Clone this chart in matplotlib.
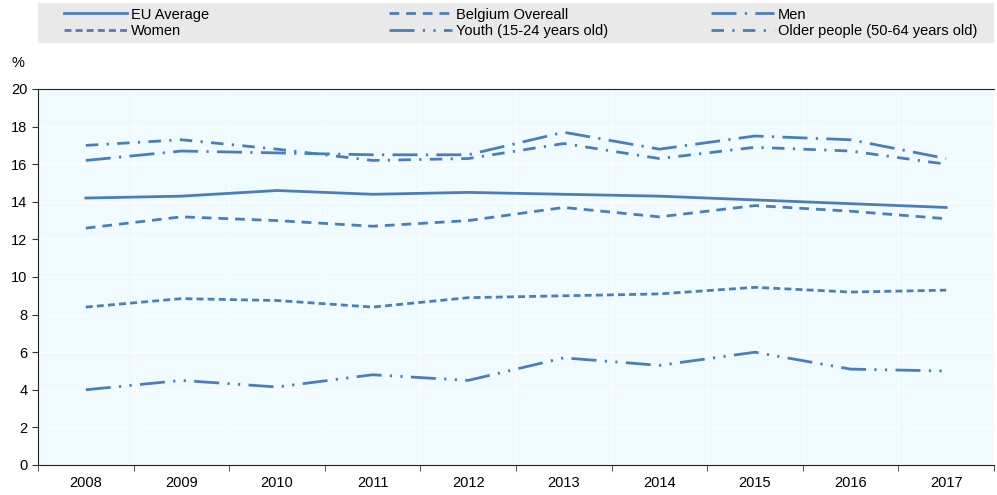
import matplotlib
matplotlib.use("Agg")
import matplotlib.pyplot as plt
from matplotlib.patches import Rectangle
import numpy as np

plt.rcParams["font.family"] = ["Liberation Sans Narrow", "Liberation Sans", "DejaVu Sans"]

years = ["2008", "2009", "2010", "2011", "2012", "2013", "2014", "2015", "2016", "2017"]
eu_average = [14.2, 14.3, 14.6, 14.4, 14.5, 14.4, 14.3, 14.1, 13.9, 13.7]
belgium = [12.6, 13.2, 13.0, 12.7, 13.0, 13.7, 13.2, 13.8, 13.5, 13.1]
men = [16.2, 16.7, 16.6, 16.5, 16.5, 17.7, 16.8, 17.5, 17.3, 16.3]
women = [8.4, 8.85, 8.75, 8.4, 8.9, 9.0, 9.1, 9.45, 9.2, 9.3]
youth = [4.0, 4.5, 4.15, 4.8, 4.5, 5.7, 5.3, 6.0, 5.1, 5.0]
older = [17.0, 17.3, 16.8, 16.2, 16.3, 17.1, 16.3, 16.9, 16.7, 16.0]

color = "#4A7EBB"
x = np.arange(len(years))

W, H = 997, 495
fig = plt.figure(figsize=(W / 100, H / 100), dpi=100)
ax = fig.add_axes([38 / W, 1 - 465 / H, (994 - 38) / W, (465 - 89) / H])
ax.set_facecolor("#F0FBFF")

lw = 2
h_eu, = ax.plot(x, eu_average, color=color, lw=lw, label="EU Average")
h_be, = ax.plot(x, belgium, color=color, lw=lw, linestyle=(0, (3.5, 2.5)), label="Belgium Overeall")
h_men, = ax.plot(x, men, color=color, lw=lw, linestyle=(0, (9, 3, 0.8, 3)), label="Men")
h_wo, = ax.plot(x, women, color=color, lw=lw, linestyle=(0, (2.5, 1.5)), label="Women")
h_yo, = ax.plot(x, youth, color=color, lw=lw, linestyle=(0, (9, 3, 0.8, 3, 0.8, 3)),
                label="Youth (15-24 years old)")
h_ol, = ax.plot(x, older, color=color, lw=lw, linestyle=(0, (4.5, 3, 0.8, 3)),
                label="Older people (50-64 years old)")

ax.set_xlim(-0.5, len(years) - 0.5)
ax.set_ylim(0, 20)
ax.set_yticks(range(0, 21, 2))
ax.set_xticks(x)
ax.set_xticklabels(years)
ax.set_xticks(np.arange(-0.5, len(years), 1.0), minor=True)
ax.tick_params(axis="x", which="major", length=0, labelsize=10.5, pad=8)
ax.tick_params(axis="x", which="minor", length=4, direction="out", color="#333333")
ax.tick_params(axis="y", length=4, direction="out", labelsize=10.5, color="#333333")

ax.grid(True, axis="y", color="white", lw=0.8)
ax.grid(True, axis="x", which="minor", color="white", lw=0.8)
ax.set_axisbelow(True)

ax.spines["right"].set_visible(False)
for side in ["top", "left", "bottom"]:
    ax.spines[side].set_color("#222222")

fig.text(18 / W, 1 - 63 / H, "%", fontsize=10.5, ha="center", va="center")

# legend: grey band with three columns placed by hand
fig.patches.append(Rectangle((38 / W, 1 - 43 / H), (994 - 38) / W, 40 / H,
                             transform=fig.transFigure, facecolor="#E9E9E9",
                             edgecolor="none", zorder=0))
columns = [(64, [h_eu, h_wo]), (389, [h_be, h_yo]), (711, [h_men, h_ol])]
for x0, hs in columns:
    fig.legend(hs, [h.get_label() for h in hs], loc="center left",
               bbox_to_anchor=(x0 / W, 1 - 23 / H), frameon=False,
               fontsize=10.5, handlelength=4.3, handletextpad=0.3,
               borderpad=0, labelspacing=0.2, borderaxespad=0)

fig.savefig("out.png", dpi=100)
